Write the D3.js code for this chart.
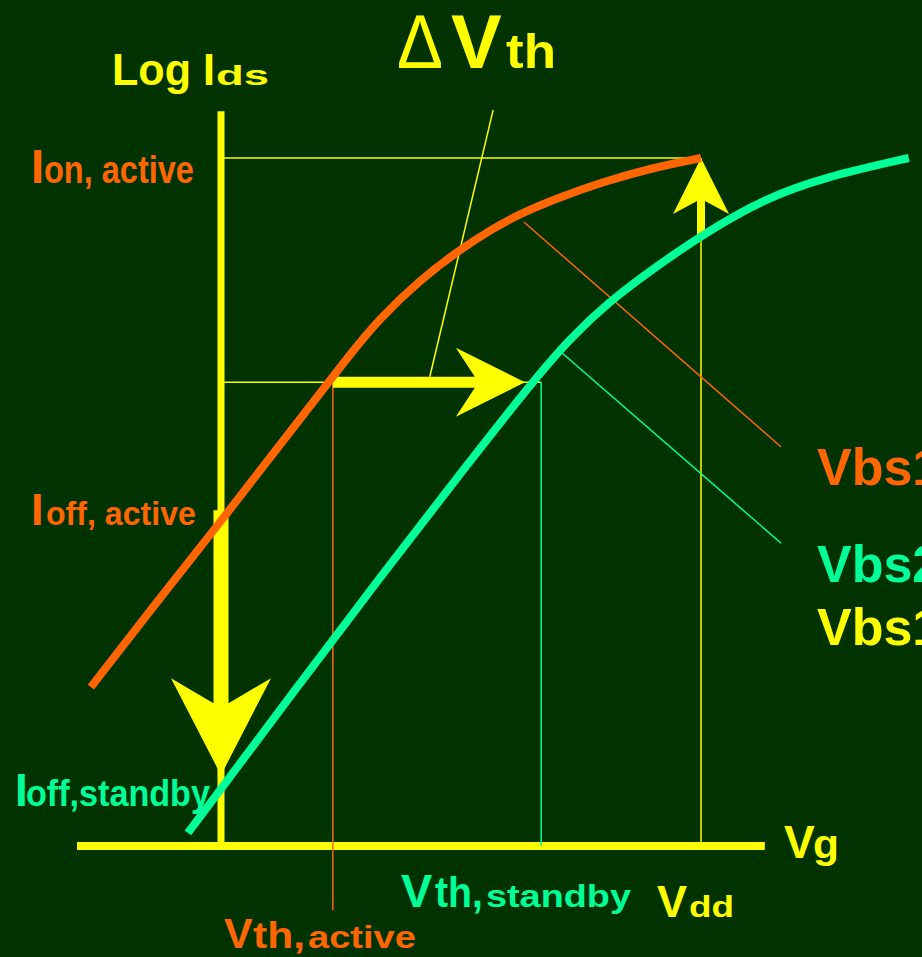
<!DOCTYPE html>
<html>
<head>
<meta charset="utf-8">
<script src="https://cdn.jsdelivr.net/npm/d3@7"></script>
<style>
  html, body { margin: 0; padding: 0; background: #003300; overflow: hidden; }
  svg { display: block; }
  text { font-family: "Liberation Sans", Arial, Helvetica, sans-serif; font-weight: bold; }
</style>
</head>
<body>
<script>
// ---- Data (normalised units: Vg = 0 at the Ids axis, Vdd = 1; log Ids = 0 at the Vg axis, Ion = 1)
const orangeVg  = [-0.271, -0.148, 0.000, 0.144, 0.269, 0.331, 0.415, 0.496, 0.560, 0.623, 0.706, 0.790, 0.894, 1.000];
const orangeIds = [ 0.231,  0.342, 0.472, 0.602, 0.715, 0.767, 0.823, 0.866, 0.895, 0.919, 0.943, 0.964, 0.985, 1.000];
const greenVg   = [-0.069, 0.000, 0.165, 0.331, 0.498, 0.648, 0.727, 0.810, 0.894, 1.010, 1.133, 1.256, 1.433];
const greenIds  = [ 0.019, 0.083, 0.237, 0.390, 0.541, 0.674, 0.738, 0.792, 0.836, 0.892, 0.941, 0.972, 1.000];
const vgMarks = { vthActive: 0.233, vthStandby: 0.667, vdd: 1.0 };
const idsMarks = { ion: 1.0, vthLevel: 0.674, ioffActive: 0.488, ioffStandby: 0.103 };
const axisExtent = { vgMin: -0.30, vgMax: 1.133, idsMax: 1.068, vthActiveLineEnd: -0.093 };
const deltaArrowEnd = 0.633;
const upArrowStart = 0.884;
const pointerLines = [
  { from: [0.567, 1.070], to: [0.435, 0.682], color: "#FFFF00" },
  { from: [0.631, 0.907], to: [1.167, 0.580], color: "#FF6600" },
  { from: [0.710, 0.717], to: [1.167, 0.440], color: "#00FF99" }
];
const labelTexts = {
  yTitle: ["Log I", "ds"], delta: ["\u0394", "V", "th"],
  ionActive: ["I", "on, active"], ioffActive: ["I", "off, active"], ioffStandby: ["I", "off,standby"],
  vthStandby: ["V", "th,", "standby"], vdd: ["V", "dd"], vthActive: ["V", "th,", "active"], xTitle: ["V", "g"],
  vbs: ["Vbs1", "Vbs2", "Vbs1"]
};

// ---- Setup
const W = 922, H = 957;
const YELLOW = "#FFFF00", ORANGE = "#FF6600", GREEN = "#00FF99", BG = "#003300";
const svg = d3.select("body").append("svg").attr("width", W).attr("height", H);
svg.append("rect").attr("width", W).attr("height", H).attr("fill", BG);

const x = d3.scaleLinear().domain([0, 1]).range([221, 701]);
const y = d3.scaleLinear().domain([0, 1]).range([846, 158]);

function seg(x1, y1, x2, y2, color, w) {
  svg.append("line").attr("x1", x(x1)).attr("y1", y(y1)).attr("x2", x(x2)).attr("y2", y(y2))
    .attr("stroke", color).attr("stroke-width", w);
}

// ---- Axes
seg(0, 0, 0, axisExtent.idsMax, YELLOW, 7);
seg(axisExtent.vgMin, 0, axisExtent.vgMax, 0, YELLOW, 8);

// ---- Thin guide lines
seg(0, idsMarks.ion, vgMarks.vdd, idsMarks.ion, YELLOW, 1.5);
seg(0, idsMarks.vthLevel, vgMarks.vthStandby, idsMarks.vthLevel, YELLOW, 1.5);
seg(vgMarks.vdd, 0, vgMarks.vdd, idsMarks.ion, YELLOW, 1.5);
seg(vgMarks.vthActive, idsMarks.vthLevel, vgMarks.vthActive, axisExtent.vthActiveLineEnd, ORANGE, 1.5);
seg(vgMarks.vthStandby, idsMarks.vthLevel, vgMarks.vthStandby, 0, GREEN, 1.5);
pointerLines.forEach(p => seg(p.from[0], p.from[1], p.to[0], p.to[1], p.color, 1.5));

// ---- Block arrows
function arrow(x1, y1, x2, y2, shaftW, headLen, notchLen, half) {
  const X1 = x(x1), Y1 = y(y1), X2 = x(x2), Y2 = y(y2);
  const L = Math.hypot(X2 - X1, Y2 - Y1), ux = (X2 - X1) / L, uy = (Y2 - Y1) / L;
  const px = -uy, py = ux, s = shaftW / 2;
  const at = (d, o) => [X2 - ux * d + px * o, Y2 - uy * d + py * o];
  const pts = [[X1 + px * s, Y1 + py * s], at(notchLen, s), at(headLen, half), [X2, Y2],
               at(headLen, -half), at(notchLen, -s), [X1 - px * s, Y1 - py * s]];
  svg.append("polygon").attr("points", pts.map(p => p.join(",")).join(" ")).attr("fill", YELLOW);
}
arrow(vgMarks.vthActive, idsMarks.vthLevel, deltaArrowEnd, idsMarks.vthLevel, 11, 69, 50, 34.5);
arrow(vgMarks.vdd, upArrowStart, vgMarks.vdd, idsMarks.ion, 8, 56, 43, 28);
arrow(0, idsMarks.ioffActive, 0, idsMarks.ioffStandby, 15, 97, 72, 50);

// ---- Curves
const line = d3.line().x(d => x(d[0])).y(d => y(d[1])).curve(d3.curveBasis);
const orangeCurve = orangeVg.map((v, i) => [v, orangeIds[i]]);
const greenCurve = greenVg.map((v, i) => [v, greenIds[i]]);
svg.append("path").attr("d", line(orangeCurve)).attr("fill", "none").attr("stroke", ORANGE).attr("stroke-width", 8);
svg.append("path").attr("d", line(greenCurve)).attr("fill", "none").attr("stroke", GREEN).attr("stroke-width", 8);

// ---- Labels (each part: text, left x, baseline y, font size, target width)
function label(parts, color) {
  parts.forEach(p => {
    const g = svg.append("g").attr("transform", `translate(${p.x},${p.y})`);
    const t = g.append("text").attr("x", 0).attr("y", 0).attr("fill", color)
      .attr("font-size", p.size).text(p.t);
    if (p.weight) t.style("font-weight", p.weight);
    if (p.w) {
      const len = t.node().getComputedTextLength();
      if (len > 0) g.attr("transform", `translate(${p.x},${p.y}) scale(${p.w / len},1)`);
    }
  });
}
const L = labelTexts;
label([{ t: L.yTitle[0], x: 112, y: 85, size: 45, w: 103 }, { t: L.yTitle[1], x: 216, y: 85, size: 28, w: 53 }], YELLOW);
label([{ t: L.delta[0], x: 397, y: 68, size: 76, w: 46, weight: "normal" },
       { t: L.delta[1], x: 451, y: 68, size: 76 }, { t: L.delta[2], x: 506, y: 68, size: 49, w: 50 }], YELLOW);
label([{ t: L.ionActive[0], x: 31, y: 183, size: 49 }, { t: L.ionActive[1], x: 44, y: 183, size: 39, w: 150 }], ORANGE);
label([{ t: L.ioffActive[0], x: 31, y: 525, size: 45 }, { t: L.ioffActive[1], x: 46, y: 525, size: 34, w: 150 }], ORANGE);
label([{ t: L.ioffStandby[0], x: 15, y: 806, size: 46 }, { t: L.ioffStandby[1], x: 26, y: 806, size: 36, w: 184 }], GREEN);
label([{ t: L.vthStandby[0], x: 401, y: 907, size: 47 }, { t: L.vthStandby[1], x: 435, y: 907, size: 42, w: 48 },
       { t: L.vthStandby[2], x: 486, y: 907, size: 32, w: 145 }], GREEN);
label([{ t: L.vdd[0], x: 657, y: 917, size: 45 }, { t: L.vdd[1], x: 689, y: 917, size: 29, w: 45 }], YELLOW);
label([{ t: L.vthActive[0], x: 224, y: 948, size: 43 }, { t: L.vthActive[1], x: 253, y: 948, size: 37, w: 52 },
       { t: L.vthActive[2], x: 308, y: 948, size: 31, w: 108 }], ORANGE);
label([{ t: L.xTitle[0], x: 784, y: 858, size: 46 }, { t: L.xTitle[1], x: 813, y: 858, size: 40, w: 26 }], YELLOW);
label([{ t: L.vbs[0], x: 817, y: 485, size: 52 }], ORANGE);
label([{ t: L.vbs[1], x: 817, y: 582, size: 52 }], GREEN);
label([{ t: L.vbs[2], x: 817, y: 645, size: 52 }], YELLOW);
</script>
</body>
</html>
